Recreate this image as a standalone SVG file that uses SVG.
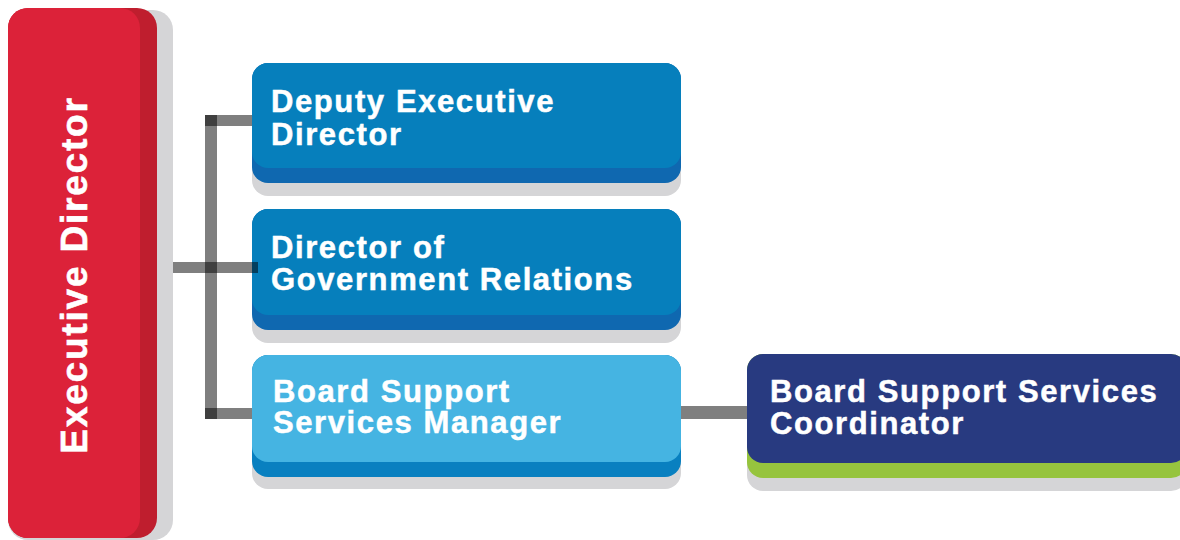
<svg xmlns="http://www.w3.org/2000/svg" width="1180" height="540" viewBox="0 0 1180 540">
<style>
.shadow{fill:#D5D5D7}
.lbl{font-family:"Liberation Sans",Arial,sans-serif;font-weight:bold;font-size:31px;fill:#FFFFFF;stroke:#FFFFFF;stroke-width:0.5px;letter-spacing:1.6px}
.vlbl{font-family:"Liberation Sans",Arial,sans-serif;font-weight:bold;font-size:37px;fill:#FFFFFF;stroke:#FFFFFF;stroke-width:0.6px;letter-spacing:1.8px}
.conn{fill:#000000;fill-opacity:0.5}
</style>
<rect width="1180" height="540" fill="#FFFFFF"/>
<g id="executive-director">
  <rect class="shadow" x="8" y="10" width="165" height="530" rx="20"/>
  <rect x="8" y="8" width="149" height="530" rx="20" fill="#BF1E2E"/>
  <rect x="8" y="8" width="132" height="530" rx="20" fill="#DC2239"/>
  <text class="vlbl" transform="translate(87,275) rotate(-90)" text-anchor="middle">Executive Director</text>
</g>
<g id="deputy-executive-director">
  <rect class="shadow" x="252" y="70" width="429" height="126" rx="16"/>
  <rect x="252" y="63" width="429" height="120" rx="16" fill="#0F68B0"/>
  <rect x="252" y="63" width="429" height="105" rx="16" fill="#067FBC"/>
  <text class="lbl" x="271" y="112">Deputy Executive</text>
  <text class="lbl" x="271" y="145">Director</text>
</g>
<g id="director-government-relations">
  <rect class="shadow" x="252" y="216" width="429" height="127" rx="16"/>
  <rect x="252" y="209" width="429" height="121" rx="16" fill="#0F68B0"/>
  <rect x="252" y="209" width="429" height="106" rx="16" fill="#067FBC"/>
  <text class="lbl" x="271" y="258">Director of</text>
  <text class="lbl" x="271" y="290">Government Relations</text>
</g>
<g id="board-support-services-manager">
  <rect class="shadow" x="252" y="362" width="429" height="127" rx="16"/>
  <rect x="252" y="355" width="429" height="122" rx="16" fill="#0980C0"/>
  <rect x="252" y="355" width="429" height="107" rx="16" fill="#45B4E2"/>
  <text class="lbl" x="273" y="402">Board Support</text>
  <text class="lbl" x="273" y="433">Services Manager</text>
</g>
<g id="board-support-services-coordinator">
  <rect class="shadow" x="747" y="361" width="440" height="130" rx="16"/>
  <rect x="747" y="354" width="440" height="124" rx="16" fill="#96C43E"/>
  <rect x="747" y="354" width="440" height="109" rx="16" fill="#283A80"/>
  <text class="lbl" x="770" y="402">Board Support Services</text>
  <text class="lbl" x="770" y="434">Coordinator</text>
</g>
<g id="connectors">
  <rect class="conn" x="205" y="115" width="12" height="304"/>
  <rect class="conn" x="205" y="115" width="47" height="11"/>
  <rect class="conn" x="173" y="262" width="85" height="11"/>
  <rect class="conn" x="205" y="408" width="47" height="11"/>
  <rect class="conn" x="681" y="406" width="66" height="13"/>
</g>
</svg>
